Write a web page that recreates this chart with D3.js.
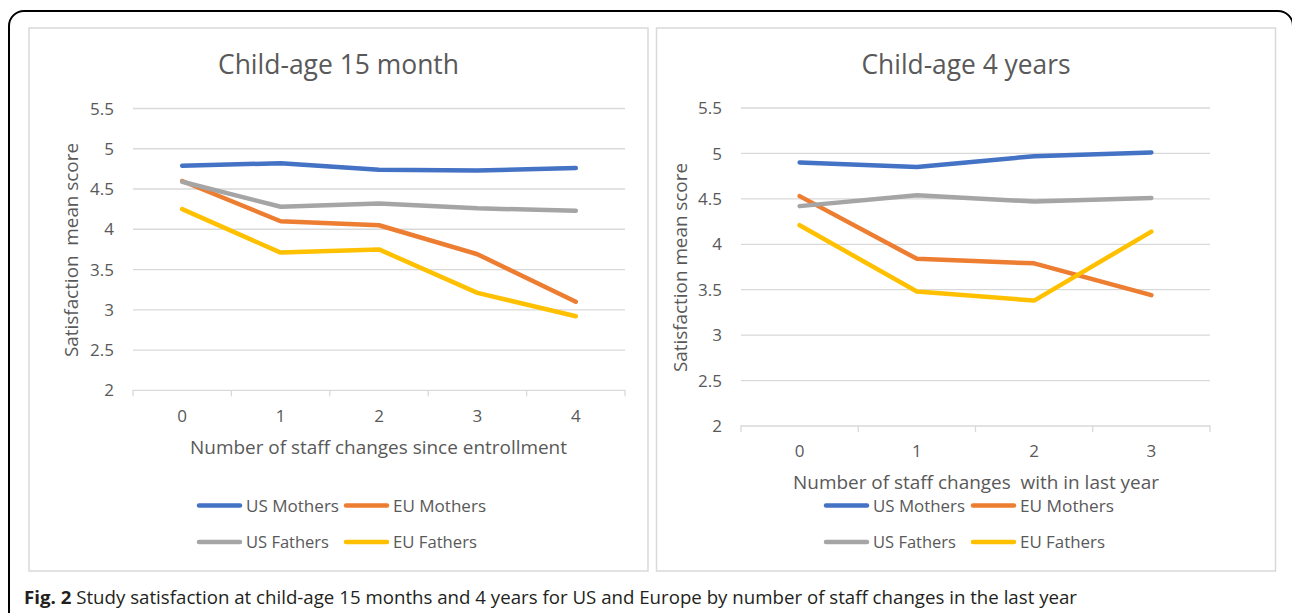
<!DOCTYPE html>
<html>
<head>
<meta charset="utf-8">
<script src="https://cdn.jsdelivr.net/npm/d3@7"></script>
<style>
html,body{margin:0;padding:0;background:#fff;}
svg{display:block;}
text{font-family:"Open Sans",sans-serif;}
</style>
</head>
<body>
<svg id="chart" width="1292" height="613"></svg>
<script>
// ---- data ----
const categories15 = ["0","1","2","3","4"];
const usMothers15 = [4.79, 4.82, 4.74, 4.73, 4.76];
const euMothers15 = [4.60, 4.10, 4.05, 3.69, 3.10];
const usFathers15 = [4.59, 4.28, 4.32, 4.26, 4.23];
const euFathers15 = [4.25, 3.71, 3.75, 3.21, 2.92];

const categories4 = ["0","1","2","3"];
const usMothers4 = [4.90, 4.85, 4.97, 5.01];
const euMothers4 = [4.53, 3.84, 3.79, 3.44];
const usFathers4 = [4.42, 4.54, 4.47, 4.51];
const euFathers4 = [4.21, 3.48, 3.38, 4.14];

const yTicks = [2, 2.5, 3, 3.5, 4, 4.5, 5, 5.5];
const seriesNames = ["US Mothers", "EU Mothers", "US Fathers", "EU Fathers"];
const seriesColors = ["#4472C4", "#ED7D31", "#A5A5A5", "#FFC000"];

const titles = ["Child-age 15 month", "Child-age 4 years"];
const xTitles = ["Number of staff changes since entrollment", "Number of staff changes  with in last year"];
const yTitles = ["Satisfaction  mean score", "Satisfaction mean score"];
const captionBold = "Fig. 2";
const captionText = " Study satisfaction at child-age 15 months and 4 years for US and Europe by number of staff changes in the last year";

// ---- layout ----
const svg = d3.select("#chart");
const textColor = "#595959";
const gridColor = "#d9d9d9";

// outer rounded frame
svg.append("rect")
  .attr("x", 9).attr("y", 11).attr("width", 1284).attr("height", 700)
  .attr("rx", 15).attr("ry", 15)
  .attr("fill", "none").attr("stroke", "#000").attr("stroke-width", 2);

const panels = [
  {
    box: [29, 28, 648, 571],
    plotX: [133, 625], plotY: [390.3, 108.5],
    cats: categories15,
    series: [usMothers15, euMothers15, usFathers15, euFathers15],
    title: titles[0], titleX: 338.5, titleLen: 241,
    yLabelRight: 114,
    yTitle: yTitles[0], yTitleX: 78, yTitleY: 250, yTitleLen: 214,
    xTickY: 422,
    xTitle: xTitles[0], xTitleX: 378.5, xTitleY: 454, xTitleLen: 377,
    legendX: 197, legendCol2: 344, legendY: [505.5, 542],
    legendLens: [[93, 93], [83, 84]]
  },
  {
    box: [656.5, 28, 1275.5, 571],
    plotX: [741, 1210], plotY: [426, 108],
    cats: categories4,
    series: [usMothers4, euMothers4, usFathers4, euFathers4],
    title: titles[1], titleX: 966, titleLen: 209,
    yLabelRight: 722,
    yTitle: yTitles[1], yTitleX: 687, yTitleY: 267.5, yTitleLen: 209,
    xTickY: 457,
    xTitle: xTitles[1], xTitleX: 976, xTitleY: 489, xTitleLen: 366,
    legendX: 824, legendCol2: 971, legendY: [505.5, 542],
    legendLens: [[92, 94], [83, 85]]
  }
];

panels.forEach(p => {
  const g = svg.append("g");
  const [x0, y0, x1, y1] = p.box;
  g.append("rect")
    .attr("x", x0).attr("y", y0).attr("width", x1 - x0).attr("height", y1 - y0)
    .attr("fill", "#fff").attr("stroke", gridColor).attr("stroke-width", 1.5);

  const x = d3.scaleBand().domain(p.cats).range(p.plotX).paddingInner(0).paddingOuter(0);
  const y = d3.scaleLinear().domain([2, 5.5]).range(p.plotY);

  // gridlines
  g.append("g").selectAll("line").data(yTicks.filter(t => t > 2)).join("line")
    .attr("x1", p.plotX[0]).attr("x2", p.plotX[1])
    .attr("y1", d => y(d)).attr("y2", d => y(d))
    .attr("stroke", gridColor).attr("stroke-width", 1.3);

  // y tick labels
  g.append("g").selectAll("text").data(yTicks).join("text")
    .attr("x", p.yLabelRight).attr("y", d => y(d)).attr("dy", "0.36em")
    .attr("text-anchor", "end").attr("font-size", 17).attr("fill", textColor)
    .text(d => d);

  // x axis
  const xAxis = d3.axisBottom(x).tickSize(6).tickSizeOuter(6).tickFormat("");
  const ax = g.append("g").attr("transform", `translate(0,${y(2)})`).call(xAxis);
  ax.select(".domain").attr("stroke", gridColor).attr("stroke-width", 1.3)
    .attr("d", `M${p.plotX[0]},6V0H${p.plotX[1]}V6`);
  // ticks at band boundaries
  ax.selectAll(".tick").remove();
  ax.selectAll("line.bnd").data(p.cats.slice(1)).join("line").attr("class", "bnd")
    .attr("x1", d => x(d)).attr("x2", d => x(d)).attr("y1", 0).attr("y2", 6)
    .attr("stroke", gridColor).attr("stroke-width", 1.3);

  // x tick labels
  g.append("g").selectAll("text").data(p.cats).join("text")
    .attr("x", d => x(d) + x.bandwidth() / 2).attr("y", p.xTickY)
    .attr("text-anchor", "middle").attr("font-size", 17).attr("fill", textColor)
    .text(d => d);

  // title
  g.append("text").attr("x", p.titleX).attr("y", 74)
    .attr("text-anchor", "middle").attr("font-size", 28).attr("fill", textColor)
    .attr("textLength", p.titleLen).attr("lengthAdjust", "spacingAndGlyphs")
    .text(p.title);

  // y title
  g.append("text")
    .attr("transform", `translate(${p.yTitleX},${p.yTitleY}) rotate(-90)`)
    .attr("text-anchor", "middle").attr("font-size", 19).attr("fill", textColor)
    .style("white-space", "pre")
    .attr("textLength", p.yTitleLen).attr("lengthAdjust", "spacingAndGlyphs")
    .text(p.yTitle);

  // x title
  g.append("text").attr("x", p.xTitleX).attr("y", p.xTitleY)
    .attr("text-anchor", "middle").attr("font-size", 19).attr("fill", textColor)
    .style("white-space", "pre")
    .attr("textLength", p.xTitleLen).attr("lengthAdjust", "spacingAndGlyphs")
    .text(p.xTitle);

  // lines
  const line = d3.line()
    .x((d, i) => x(p.cats[i]) + x.bandwidth() / 2)
    .y(d => y(d));
  g.append("g").selectAll("path").data(p.series).join("path")
    .attr("d", d => line(d))
    .attr("fill", "none")
    .attr("stroke", (d, i) => seriesColors[i])
    .attr("stroke-width", 4.5)
    .attr("stroke-linejoin", "round")
    .attr("stroke-linecap", "round");

  // legend
  const lg = g.append("g");
  seriesNames.forEach((name, i) => {
    const row = Math.floor(i / 2), col = i % 2;
    const lx = col === 0 ? p.legendX : p.legendCol2;
    const ly = p.legendY[row];
    lg.append("line")
      .attr("x1", lx + 2).attr("x2", lx + 43).attr("y1", ly).attr("y2", ly)
      .attr("stroke", seriesColors[i]).attr("stroke-width", 4.5).attr("stroke-linecap", "round");
    lg.append("text")
      .attr("x", lx + 49).attr("y", ly + 6)
      .attr("font-size", 17).attr("fill", textColor)
      .attr("textLength", p.legendLens[row][col]).attr("lengthAdjust", "spacingAndGlyphs")
      .text(name);
  });
});

// caption
const cap = svg.append("text").attr("x", 24).attr("y", 604)
  .attr("font-size", 18).attr("fill", "#231f20")
  .attr("textLength", 1053).attr("lengthAdjust", "spacingAndGlyphs")
  .style("white-space", "pre");
cap.append("tspan").attr("font-weight", "bold").text(captionBold);
cap.append("tspan").text(captionText);
</script>
</body>
</html>
